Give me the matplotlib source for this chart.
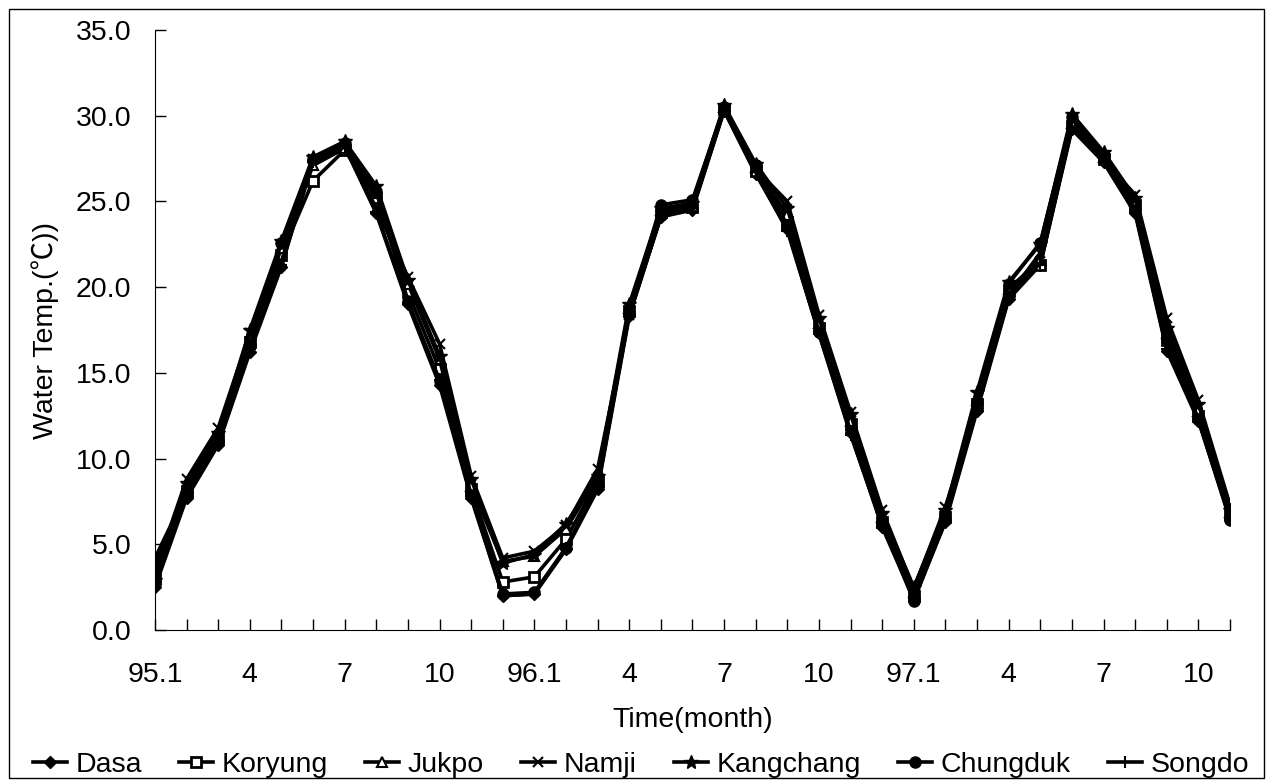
import matplotlib
matplotlib.use("Agg")
import matplotlib.pyplot as plt
from matplotlib.patches import Rectangle
from matplotlib.ticker import FormatStrFormatter

plt.rcParams['font.family'] = ['Liberation Sans', 'Noto Sans CJK KR', 'DejaVu Sans']

# months 95.1 .. 97.11
months = list(range(35))
tick_labels = ['95.1', '', '', '4', '', '', '7', '', '', '10', '', '',
               '96.1', '', '', '4', '', '', '7', '', '', '10', '', '',
               '97.1', '', '', '4', '', '', '7', '', '', '10', '']

dasa = [2.5, 7.7, 10.8, 16.2, 21.2, 27.4, 28.2, 24.3, 19.0, 14.3, 7.7, 2.0, 2.1, 4.7, 8.2, 18.3, 24.1, 24.5,
        30.3, 26.6, 23.4, 17.3, 11.5, 6.0, 1.8, 6.3, 12.8, 19.3, 21.3, 29.2, 27.3, 24.3, 16.3, 12.2, 6.5]
koryung = [3.0, 8.1, 11.2, 16.8, 21.9, 26.2, 28.0, 25.2, 19.7, 15.2, 8.2, 2.8, 3.1, 5.3, 8.7, 18.6, 24.4, 24.7,
           30.4, 26.8, 23.8, 17.6, 12.0, 6.3, 2.0, 6.6, 13.2, 19.8, 21.3, 29.4, 27.5, 24.8, 16.9, 12.5, 6.7]
jukpo = [3.6, 8.4, 11.4, 17.0, 22.3, 27.1, 28.1, 25.5, 20.2, 15.8, 8.4, 4.0, 4.3, 5.9, 8.9, 18.8, 24.5, 24.9,
         30.5, 27.0, 24.2, 17.9, 12.2, 6.6, 2.2, 6.8, 13.4, 19.9, 21.6, 29.6, 27.6, 25.0, 17.3, 12.8, 6.9]
namji = [3.4, 8.8, 11.8, 17.3, 21.5, 27.5, 28.3, 24.6, 20.6, 16.7, 9.0, 4.2, 4.6, 6.1, 9.4, 18.4, 24.2, 24.6,
         30.4, 26.9, 25.0, 18.4, 12.7, 7.0, 2.4, 7.2, 13.0, 19.5, 22.0, 29.3, 27.4, 25.4, 18.2, 13.4, 7.3]
kangchang = [2.9, 8.6, 11.5, 17.5, 22.7, 27.6, 28.5, 25.9, 20.4, 16.0, 8.8, 3.9, 4.4, 6.2, 9.0, 19.0, 24.6, 24.9,
             30.6, 27.2, 24.6, 18.2, 12.6, 6.8, 2.5, 7.0, 13.9, 20.3, 22.5, 30.1, 27.9, 25.2, 17.6, 13.2, 7.0]
chungduk = [4.2, 8.0, 11.0, 16.6, 22.6, 27.5, 28.4, 25.6, 19.2, 14.5, 7.9, 2.1, 2.2, 4.8, 8.4, 18.5, 24.8, 25.1,
            30.5, 27.1, 23.6, 17.4, 11.6, 6.2, 1.7, 6.4, 13.3, 20.2, 22.6, 29.9, 27.7, 24.5, 16.9, 12.3, 6.4]
songdo = [2.7, 7.8, 10.9, 16.4, 21.3, 27.3, 28.2, 24.4, 19.1, 14.6, 7.8, 2.0, 2.1, 4.8, 8.3, 18.4, 24.1, 24.6,
          30.3, 26.7, 23.3, 17.3, 11.4, 6.1, 1.9, 6.5, 12.9, 19.4, 21.4, 29.3, 27.3, 24.4, 16.4, 12.3, 6.6]

fig = plt.figure(figsize=(12.67, 7.8), dpi=100)
ax = fig.add_axes([0.1223, 0.1923, 0.8485, 0.7692])

lw = 2.6
ax.plot(months, dasa, color='black', lw=lw, marker='D', ms=6, label='Dasa')
ax.plot(months, koryung, color='black', lw=lw, marker='s', ms=7, mfc='white', mew=2, label='Koryung')
ax.plot(months, jukpo, color='black', lw=lw, marker='^', ms=7, mfc='white', mew=1.5, label='Jukpo')
ax.plot(months, namji, color='black', lw=lw, marker='x', ms=7, mew=1.5, label='Namji')
ax.plot(months, kangchang, color='black', lw=lw, marker='*', ms=10, label='Kangchang')
ax.plot(months, chungduk, color='black', lw=lw, marker='o', ms=8, label='Chungduk')
ax.plot(months, songdo, color='black', lw=lw, marker='+', ms=9, mew=1.5, label='Songdo')

ax.set_xlim(0, 34)
ax.set_ylim(0, 35)
ax.set_xticks(months)
ax.set_xticklabels(tick_labels, fontsize=20.5)
ax.set_yticks(range(0, 36, 5))
ax.yaxis.set_major_formatter(FormatStrFormatter('%.1f'))
ax.tick_params(axis='y', direction='in', length=8, width=1, pad=17, labelsize=20.5)
ax.tick_params(axis='x', direction='in', length=8, width=1, pad=23)

ax.spines['top'].set_visible(False)
ax.spines['right'].set_visible(False)

ax.set_xlabel('Time(month)', fontsize=20.5, labelpad=14)
ax.set_ylabel('Water Temp.(℃))', fontsize=20.5, labelpad=12)

fig.legend(loc='lower center', bbox_to_anchor=(0.506, -0.03), ncol=7, frameon=False, fontsize=20.5,
           handlelength=1.2, handletextpad=0.3, columnspacing=1.3)

# outer frame
fig.patches.append(Rectangle((0.007, 0.003), 0.991, 0.986, transform=fig.transFigure,
                             fill=False, edgecolor='black', lw=1))

fig.savefig('out.png', dpi=100)
